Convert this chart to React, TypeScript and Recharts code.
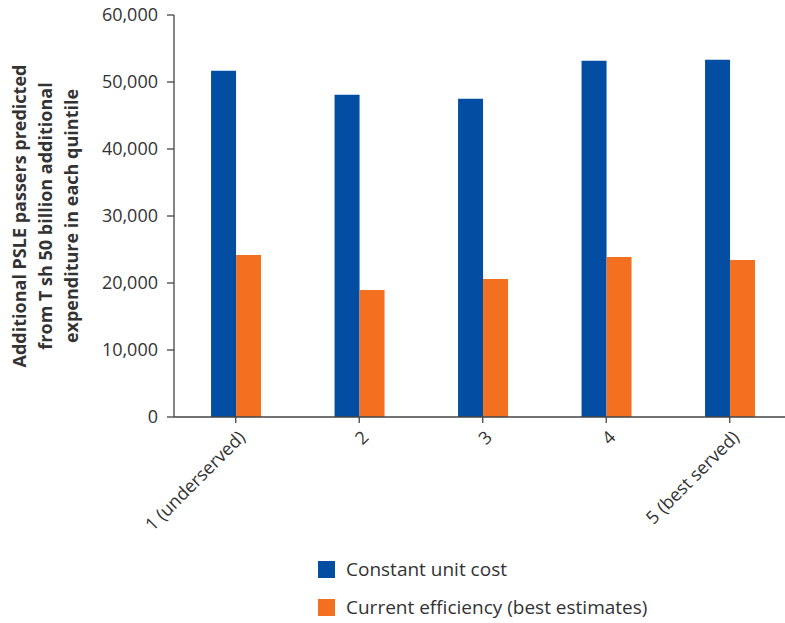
import React from 'react';
import { BarChart, Bar, XAxis, YAxis, Legend } from 'recharts';

const categories = ['1 (underserved)', '2', '3', '4', '5 (best served)'];
const constantUnitCost = [51680, 48090, 47490, 53170, 53320];
const currentEfficiency = [24170, 18940, 20580, 23870, 23420];
const yTicks = [0, 10000, 20000, 30000, 40000, 50000, 60000];

const seriesNames = ['Constant unit cost', 'Current efficiency (best estimates)'];
const BLUE = '#034EA2';
const ORANGE = '#F37021';
const TEXT = '#333333';
const AXIS = '#444444';
const FONT = '"Open Sans", "Noto Sans", sans-serif';

const data = categories.map((c, i) => ({
  name: c,
  constant: constantUnitCost[i],
  current: currentEfficiency[i],
}));

const XTick = (props: any) => {
  const { x, y, payload } = props;
  return (
    <g transform={`translate(${x + 2},${y + 5})`}>
      <text
        x={0}
        y={0}
        dy={12}
        textAnchor="end"
        transform="rotate(-45)"
        fill={TEXT}
        fontSize={18}
        fontFamily={FONT}
      >
        {payload.value}
      </text>
    </g>
  );
};

const YLabel = () => {
  const lines = [
    'Additional PSLE passers predicted',
    'from T sh 50 billion additional',
    'expenditure in each quintile',
  ];
  const xs = [26, 52, 78];
  return (
    <g>
      {lines.map((l, i) => (
        <text
          key={i}
          x={xs[i]}
          y={216}
          transform={`rotate(-90, ${xs[i]}, 216)`}
          textAnchor="middle"
          fill={TEXT}
          fontSize={18}
          fontWeight={700}
          fontFamily={FONT}
        >
          {l}
        </text>
      ))}
    </g>
  );
};

const LegendContent = () => {
  const colors = [BLUE, ORANGE];
  return (
    <div style={{ fontFamily: FONT }}>
      {seriesNames.map((n, i) => (
        <div
          key={n}
          style={{ display: 'flex', alignItems: 'center', height: 38 }}
        >
          <span
            style={{
              display: 'inline-block',
              width: 17,
              height: 17,
              background: colors[i],
              marginRight: 11,
            }}
          />
          <span style={{ fontSize: 19, color: TEXT, whiteSpace: 'nowrap' }}>{n}</span>
        </div>
      ))}
    </div>
  );
};

export default function App() {
  return (
    <div
      style={{
        position: 'absolute',
        left: 0,
        top: 0,
        width: 785,
        height: 623,
        overflow: 'hidden',
        background: '#fff',
      }}
    >
      <BarChart
        width={800}
        height={623}
        data={data}
        margin={{ top: 15, right: 8.5, left: 0, bottom: 0 }}
        barCategoryGap="30%"
        barGap={0}
      >
        <XAxis
          dataKey="name"
          height={206}
          interval={0}
          tick={<XTick />}
          tickLine={{ stroke: AXIS, strokeWidth: 1.3 }}
          axisLine={{ stroke: AXIS, strokeWidth: 1.3 }}
          tickSize={6}
          scale="band"
        />
        <YAxis
          width={174}
          domain={[0, 60000]}
          ticks={yTicks}
          interval={0}
          tickFormatter={(v: number) => v.toLocaleString('en-US')}
          tick={{ fill: TEXT, fontSize: 18, fontFamily: FONT }}
          tickLine={{ stroke: AXIS, strokeWidth: 1.3 }}
          axisLine={{ stroke: AXIS, strokeWidth: 1.3 }}
          tickSize={7}
          tickMargin={9}
          label={<YLabel />}
        />
        <Legend
          layout="vertical"
          align="center"
          verticalAlign="middle"
          content={<LegendContent />}
          wrapperStyle={{ left: 318, top: 550, width: 400 }}
        />
        <Bar dataKey="constant" name={seriesNames[0]} fill={BLUE} isAnimationActive={false} />
        <Bar dataKey="current" name={seriesNames[1]} fill={ORANGE} isAnimationActive={false} />
      </BarChart>
    </div>
  );
}
